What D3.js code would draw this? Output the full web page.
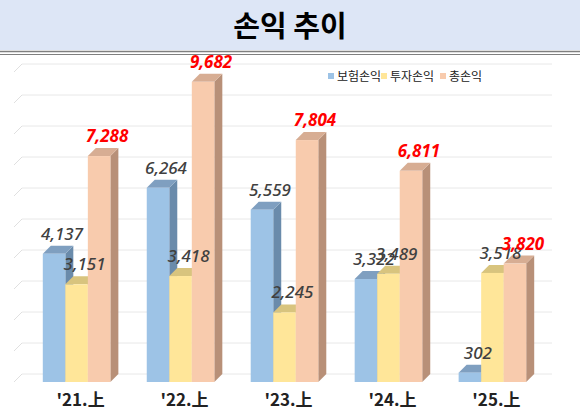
<!DOCTYPE html><html><head><meta charset="utf-8">
<script src="https://cdn.jsdelivr.net/npm/d3@7"></script>
<style>body{margin:0;background:#fff}svg{display:block}</style></head><body>
<svg id="c" width="580" height="411"></svg>
<script>
const categories=["'21.上","'22.上","'23.上","'24.上","'25.上"];
const seriesNames=["보험손익","투자손익","총손익"];
const insurance=[4137,6264,5559,3322,302];
const investment=[3151,3418,2245,3489,3518];
const total=[7288,9682,7804,6811,3820];
const yTicks=[0,1000,2000,3000,4000,5000,6000,7000,8000,9000,10000];
const colors=["#9dc3e6","#ffe699","#f8cbad"];
const sideColors=["#6a8bab","#c7b36d","#b89078"];
const topColors=["#7f9fc0","#d8c47e","#d7ad93"];
const labelColors=["#404040","#404040","#ff0000"];
const svg=d3.select("#c");
svg.append("rect").attr("x",0).attr("y",0).attr("width",580).attr("height",50).attr("fill","#dde6f6");
svg.append("line").attr("x1",0).attr("x2",580).attr("y1",51.5).attr("y2",51.5).attr("stroke","#7f7f7f").attr("stroke-width",1.5);
svg.append("line").attr("x1",0).attr("x2",580).attr("y1",54.5).attr("y2",54.5).attr("stroke","#7f7f7f").attr("stroke-width",1);
svg.append("text").attr("x",290).attr("y",37).attr("text-anchor","middle").attr("font-family","Noto Sans CJK KR").attr("font-weight",700).attr("font-size",29).text("손익 추이");
const dx=8,dy=8;
const y=d3.scaleLinear().domain([0,10000]).range([382,72]);
const x0=d3.scaleBand().domain(categories).range([22,547]).paddingInner(0.35).paddingOuter(0.2);
const x1=d3.scaleBand().domain([0,1,2]).range([0,x0.bandwidth()]);
const g=svg.append("g");
yTicks.forEach(t=>{const yy=y(t);
 g.append("line").attr("x1",14).attr("y1",yy).attr("x2",14+dx).attr("y2",yy-dy).attr("stroke","#e0e0e0");
 g.append("line").attr("x1",14+dx).attr("y1",yy-dy).attr("x2",552).attr("y2",yy-dy).attr("stroke","#e8e8e8");});
const data=[insurance,investment,total];
categories.forEach((c,i)=>{
 [0,1,2].forEach(s=>{
  const v=data[s][i],xl=x0(c)+x1(s),w=x1.bandwidth(),yt=y(v),yb=y(0);
  const gg=svg.append("g");
  gg.append("path").attr("d",`M${xl+w},${yt}L${xl+w+dx},${yt-dy}L${xl+w+dx},${yb-dy}L${xl+w},${yb}Z`).attr("fill",sideColors[s]);
  gg.append("path").attr("d",`M${xl},${yt}L${xl+dx},${yt-dy}L${xl+w+dx},${yt-dy}L${xl+w},${yt}Z`).attr("fill",topColors[s]);
  gg.append("rect").attr("x",xl).attr("y",yt).attr("width",w).attr("height",yb-yt).attr("fill",colors[s]);
 });
});
categories.forEach((c,i)=>{
 [0,1,2].forEach(s=>{
  const v=data[s][i],xl=x0(c)+x1(s),w=x1.bandwidth();
  svg.append("text").attr("x",xl+w/2+dx).attr("y",y(v)-dy-6).attr("text-anchor","middle")
   .attr("font-family","Noto Sans").attr("font-style","italic").attr("font-weight",s==2?700:500)
   .attr("font-size",17).attr("fill",labelColors[s]).text(d3.format(",")(v));
 });
 svg.append("text").attr("x",x0(c)+x0.bandwidth()/2+dx/2).attr("y",406).attr("text-anchor","middle")
  .attr("font-family","Noto Sans CJK KR").attr("font-weight",700).attr("font-size",17).attr("fill","#222").text(c);
});
const lg=svg.append("g").attr("font-family","Noto Sans CJK KR").attr("font-size",12).attr("fill","#222");
const lx=[328,381,440];
seriesNames.forEach((n,i)=>{lg.append("rect").attr("x",lx[i]).attr("y",73).attr("width",6).attr("height",6).attr("fill",colors[i]);
 lg.append("text").attr("x",lx[i]+9).attr("y",81).text(n);});
</script></body></html>
